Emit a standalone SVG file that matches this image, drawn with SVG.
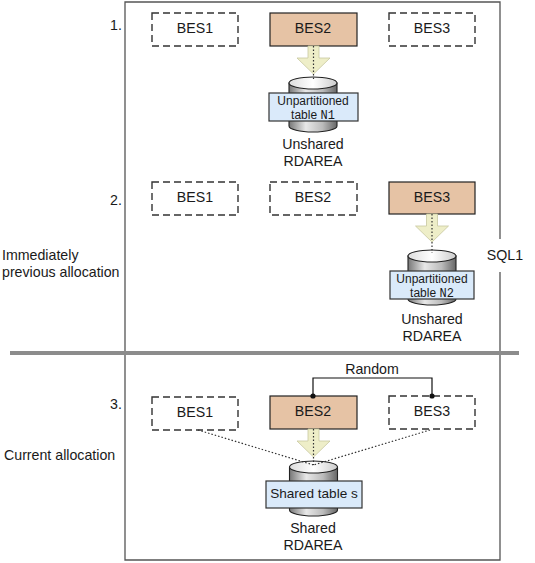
<svg xmlns="http://www.w3.org/2000/svg" width="535" height="563" viewBox="0 0 535 563">
<style>
text{font-family:"Liberation Sans",Arial,sans-serif;font-size:14.2px;fill:#1a1a1a;text-anchor:middle}
.l{text-anchor:start}
.s{font-size:12px}
.m{font-family:"Liberation Mono",monospace;font-size:12px}
.on{fill:#e6c3a5;stroke:#222;stroke-width:1.2}
.off{fill:#fff;stroke:#333;stroke-width:1.4;stroke-dasharray:7 4}
.tb{fill:#daeafa;stroke:#333;stroke-width:1.2}
.ar{fill:#eeeec8;stroke:#c8c8a0;stroke-width:.8}
.cy{fill:url(#g);stroke:#222;stroke-width:1.1}
.top{fill:url(#g2);stroke:#222;stroke-width:1.1}
.dot{fill:none;stroke:#333;stroke-width:1.2;stroke-dasharray:1.5 2}
.fr{fill:none;stroke:#555;stroke-width:1.3}
</style>
<defs>
<linearGradient id="g"><stop offset="0" stop-color="#777"/><stop offset=".35" stop-color="#e8e8e8"/><stop offset=".7" stop-color="#bbb"/><stop offset="1" stop-color="#666"/></linearGradient>
<linearGradient id="g2"><stop offset="0" stop-color="#ddd"/><stop offset=".5" stop-color="#fff"/><stop offset="1" stop-color="#ccc"/></linearGradient>
<g id="cyl"><path class="cy" d="M-24 0V43A24 6 0 0 0 24 43V0Z"/><ellipse class="top" cx="0" cy="0" rx="24" ry="6"/></g>
<path id="arr" class="ar" d="M-5.500 0V12H-16.500L0 28 16.500 12H5.500V0Z"/>
</defs>
<g id="frame">
<path class="fr" d="M500 239V2H125V560H500V272"/>
<rect x="10" y="351" width="509" height="4" fill="#8c8c8c"/>
</g>
<g id="labels">
<text x="116" y="30">1.</text>
<text x="116" y="205">2.</text>
<text x="116" y="409">3.</text>
<text class="l" x="2" y="260">Immediately</text>
<text class="l" x="2" y="277">previous allocation</text>
<text class="l" x="4" y="460">Current allocation</text>
<text x="505" y="260">SQL1</text>
</g>
<g id="s1-bes1"><rect class="off" x="152" y="13" width="86" height="33"/><text x="195" y="33">BES1</text></g>
<g id="s1-bes2"><rect class="on" x="270" y="13" width="87" height="33"/><text x="313" y="33">BES2</text></g>
<g id="s1-bes3"><rect class="off" x="389" y="13" width="86" height="33"/><text x="432" y="33">BES3</text></g>
<g id="s1-db">
<use href="#arr" x="313.500" y="46"/>
<use href="#cyl" x="313" y="83"/>
<rect class="tb" x="269" y="93" width="89" height="28"/>
<text class="s" x="313" y="105">Unpartitioned</text>
<text class="s" x="313" y="119">table <tspan class="m">N1</tspan></text>
<text x="313" y="149">Unshared</text>
<text x="313" y="166">RDAREA</text>
</g>
<g id="s2-bes1"><rect class="off" x="152" y="182" width="86" height="33"/><text x="195" y="202">BES1</text></g>
<g id="s2-bes2"><rect class="off" x="270" y="182" width="87" height="33"/><text x="313" y="202">BES2</text></g>
<g id="s2-bes3"><rect class="on" x="389" y="182" width="86" height="32"/><text x="432" y="202">BES3</text></g>
<g id="s2-db">
<use href="#arr" x="432" y="214"/>
<use href="#cyl" x="432" y="256"/>
<rect class="tb" x="390" y="271" width="84" height="28"/>
<text class="s" x="432" y="283">Unpartitioned</text>
<text class="s" x="432" y="297">table <tspan class="m">N2</tspan></text>
<text x="432" y="324">Unshared</text>
<text x="432" y="341">RDAREA</text>
</g>
<g id="s3-bes1"><rect class="off" x="152" y="397" width="86" height="33"/><text x="195" y="417">BES1</text></g>
<g id="s3-bes2"><rect class="on" x="270" y="396" width="87" height="33"/><text x="313" y="416">BES2</text></g>
<g id="s3-bes3"><rect class="off" x="389" y="396" width="86" height="33"/><text x="432" y="416">BES3</text></g>
<g id="s3-db">
<use href="#arr" x="313.500" y="429"/>
<use href="#cyl" x="313.500" y="467"/>
<rect class="tb" x="266" y="481" width="96" height="27"/>
<text x="314" y="498" style="font-size:13.600px">Shared table s</text>
<text x="313" y="533">Shared</text>
<text x="313" y="550">RDAREA</text>
</g>
<g id="connectors">
<path class="dot" d="M313.500 46V81"/>
<path class="dot" d="M432 214V253"/>
<path class="dot" d="M313.500 429V465M198 430L313.500 465M430 430L313.500 465"/>
<path d="M313 396V378H432V396" fill="none" stroke="#111" stroke-width="1.2"/>
<circle cx="313" cy="396" r="2.600" fill="#111"/><circle cx="432" cy="396" r="2.600" fill="#111"/>
<text x="372" y="374">Random</text>
</g>
</svg>
